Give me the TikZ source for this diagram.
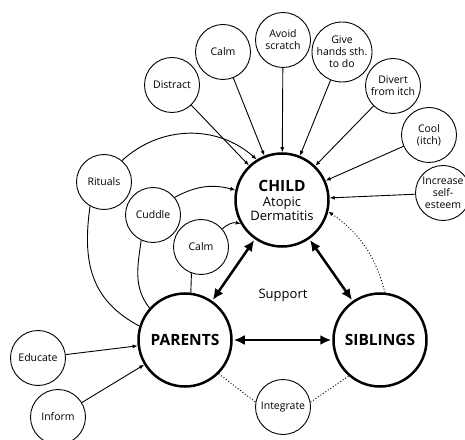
\documentclass[tikz,border=0pt]{standalone}
\usepackage{fontspec}
\setmainfont{Open Sans}
\usetikzlibrary{arrows.meta,positioning}

\begin{document}
\begin{tikzpicture}[x=1pt,y=1pt,node font=\fontsize{10.5}{12}\selectfont,>={Latex[length=5pt,width=4pt]}]
	\tikzstyle{topic}=[circle,draw,line width=0.9pt,minimum size=55pt,inner sep=0pt,align=center]
	\tikzstyle{actor}=[circle,draw,line width=2.5pt,minimum size=93pt,inner sep=0pt,align=center,node font=\fontsize{15.5}{17}\selectfont\bfseries]
	\tikzstyle{strong}=[line width=2.5pt,shorten >=1pt,shorten <=1pt,{Latex[length=11pt,width=10pt]}-{Latex[length=11pt,width=10pt]}]
	\tikzstyle{weak}=[line width=0.9pt]

	\useasboundingbox (0,0) rectangle (465,439);

	\node[actor]  (CHILD)  at (282,239) {CHILD\\[-2pt]{\fontsize{13}{13}\selectfont\mdseries Atopic}\\[-3pt]{\fontsize{13}{13}\selectfont\mdseries Dermatitis}};
	\node[actor]  (PAR)    at (185,99)  {PARENTS};
	\node[actor]  (SIB)    at (380,99)  {SIBLINGS};

	\node[topic]  (DIS)    at (172,354) {Distract};
	\node[topic]  (CALM)   at (223,387) {Calm};
	\node[topic]  (AVO)    at (283,399) {Avoid\\scratch};
	\node[topic]  (GIVE)   at (342,387) {Give\\hands sth.\\to do};
	\node[topic]  (DIV)    at (393,353) {Divert\\from itch};
	\node[topic]  (COOL)   at (429,304) {Cool\\(itch)};
	\node[topic]  (INC)    at (443,246) {Increase\\self-\\esteem};
	\node[topic]  (RIT)    at (104,257) {Rituals};
	\node[topic]  (CUD)    at (153,224) {Cuddle};
	\node[topic]  (CALMP)  at (201,192) {Calm};
	\node[topic]  (EDU)    at (38,81)   {Educate};
	\node[topic]  (INF)    at (58,22)   {Inform};
	\node[topic]  (INT)    at (283,32)  {Integrate};
	\node[font=\fontsize{13}{13}\selectfont] (SUP) at (283,144) {Support};

	\path[->,weak]
	(DIS) edge (CHILD)
	(CALM) edge (CHILD)
	(AVO) edge (CHILD)
	(GIVE) edge (CHILD)
	(DIV) edge (CHILD)
	(COOL) edge (CHILD)
	(INC) edge (CHILD)
	(RIT.50) edge [bend left=42] (CHILD.122)
	(CUD.39) edge [bend left=22] (CHILD.168)
	(CALMP.40) edge [bend left=30] (CHILD.210)
	(EDU) edge (PAR)
	(INF) edge (PAR);

	\path[weak]
	(RIT.240) edge [out=262,in=152,looseness=1.1] (PAR.163)
	(CUD.245) edge [out=262,in=128] (PAR.138)
	(CALMP.250) edge (PAR.83);

	\path[weak,dash pattern=on 1pt off 2pt]
	(PAR.-45) edge (INT.170)
	(INT.10) edge (SIB.229)
	(SIB.84) edge [->,bend right=20] (CHILD.-14);

	\path[strong]
	(PAR) edge (CHILD)
	(CHILD) edge (SIB)
	(PAR) edge (SIB);
\end{tikzpicture}
\end{document}
